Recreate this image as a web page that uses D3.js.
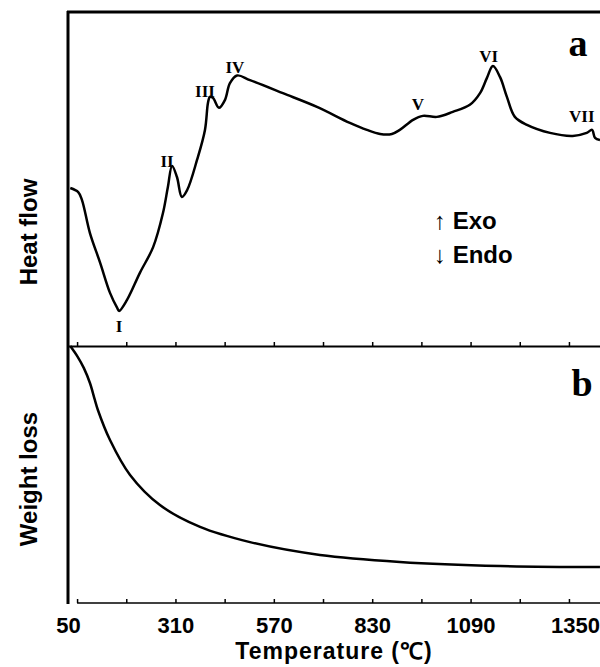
<!DOCTYPE html>
<html>
<head>
<meta charset="utf-8">
<script src="https://cdn.jsdelivr.net/npm/d3@7"></script>
<style>
body { margin: 0; background: #fff; }
</style>
</head>
<body>
<script>
// DTA curve (a), arbitrary units
var heatT = [32, 53, 63, 84, 111, 137, 156, 161, 182, 216, 251, 277, 290, 301, 314, 327, 341, 367, 388, 396, 401, 409, 425, 441, 454, 473,
    507, 594, 684, 771, 816, 851, 882, 903, 938, 964, 1001, 1043, 1088, 1115, 1133, 1149, 1168, 1186, 1207, 1239, 1300, 1360, 1397, 1411, 1419, 1432];
var heatV = [47.3, 46.1, 43.7, 33.8, 24.9, 15.9, 11.4, 10.5, 13.8, 21.9, 29.6, 39.8, 47.6, 53.9, 50.6, 44.6, 46.7, 55.7, 64.7, 72.8, 74.6, 74.3, 71.3, 73.7, 78.7, 81.0,
    79.6, 75.7, 71.6, 66.8, 64.7, 63.5, 63.5, 64.7, 67.7, 68.9, 68.6, 70.1, 72.2, 75.7, 80.2, 83.8, 80.5, 74.6, 68.6, 66.2, 63.8, 62.9, 63.8, 64.7, 62.3, 61.7];

// TG curve (b), arbitrary units
var weightT = [32, 52, 68, 84, 97, 105, 137, 190, 269, 375, 507, 692, 903, 1168, 1432];
var weightV = [100, 95.7, 91.4, 85.6, 79, 75.1, 63.4, 49.8, 38.1, 29.6, 23.7, 18.7, 16, 14.4, 14];

var tickVals = [50, 180, 310, 440, 570, 700, 830, 960, 1090, 1220, 1350];
var tickLabels = [50, 310, 570, 830, 1090, 1350];

var peakNames = ['I', 'II', 'III', 'IV', 'V', 'VI', 'VII'];
var peakT = [161, 288, 388, 467, 951, 1138, 1384];
var peakV = [4.2, 53.6, 74.6, 81.7, 70.7, 85, 67];

var svg = d3.select('body').append('svg').attr('width', 600).attr('height', 667);

var x = d3.scaleLinear().domain([26, 1440]).range([68, 603]);
var yA = d3.scaleLinear().domain([0, 100]).range([346, 12]);
var yB = d3.scaleLinear().domain([0, 100]).range([603, 346]);

var sans = 'Liberation Sans, Arial, sans-serif';
var serif = 'Liberation Serif, Times New Roman, serif';

// frame
svg.append('line')
    .attr('x1', 68).attr('x2', 68).attr('y1', 11).attr('y2', 604)
    .attr('stroke', '#000').attr('stroke-width', 3);
svg.append('line')
    .attr('x1', 67).attr('x2', 600).attr('y1', 12).attr('y2', 12)
    .attr('stroke', '#000').attr('stroke-width', 3);

// middle axis (no labels)
var midAxis = svg.append('g')
    .attr('transform', 'translate(0,' + yA(0) + ')')
    .call(d3.axisBottom(x).tickValues(tickVals).tickSizeInner(-4).tickSizeOuter(0).tickFormat(''));
midAxis.select('.domain').attr('stroke-width', 2);
midAxis.selectAll('.tick line').attr('stroke-width', 1.5);

// bottom axis, line starts at the first tick
var botAxis = svg.append('g')
    .attr('transform', 'translate(0,' + yB(0) + ')')
    .call(d3.axisBottom(x).tickValues(tickVals).tickSizeInner(-4).tickSizeOuter(0).tickPadding(14)
        .tickFormat(function(d) {
            return tickLabels.indexOf(d) >= 0 ? d : '';
        }));
botAxis.select('.domain')
    .attr('d', 'M' + x(50) + ',0H' + x.range()[1])
    .attr('stroke-width', 1.5);
botAxis.selectAll('.tick line').attr('stroke-width', 1.5);
botAxis.selectAll('.tick text')
    .attr('font-family', sans)
    .attr('font-weight', 'bold')
    .attr('font-size', 22)
    .attr('fill', '#000')
    .attr('dx', function(d) {
        return d === 50 ? -9 : (d === 1350 ? 6 : 0);
    });

// curves
var lineA = d3.line()
    .x(function(d, i) { return x(heatT[i]); })
    .y(function(d, i) { return yA(heatV[i]); })
    .curve(d3.curveCatmullRom.alpha(0.5));
svg.append('path')
    .attr('d', lineA(heatT))
    .attr('fill', 'none')
    .attr('stroke', '#000')
    .attr('stroke-width', 2.5);

var lineB = d3.line()
    .x(function(d, i) { return x(weightT[i]); })
    .y(function(d, i) { return yB(weightV[i]); })
    .curve(d3.curveCatmullRom.alpha(0.5));
svg.append('path')
    .attr('d', lineB(weightT))
    .attr('fill', 'none')
    .attr('stroke', '#000')
    .attr('stroke-width', 2.5);

// peak labels
svg.selectAll('.peak')
    .data(peakNames)
    .enter()
    .append('text')
    .attr('class', 'peak')
    .attr('x', function(d, i) { return x(peakT[i]); })
    .attr('y', function(d, i) { return yA(peakV[i]); })
    .attr('text-anchor', 'middle')
    .attr('font-family', serif)
    .attr('font-weight', 'bold')
    .attr('font-size', 17)
    .text(function(d) { return d; });

// panel letters
svg.append('text').attr('x', 578).attr('y', 56).attr('text-anchor', 'middle')
    .attr('font-family', serif).attr('font-weight', 'bold').attr('font-size', 38).text('a');
svg.append('text').attr('x', 582).attr('y', 396).attr('text-anchor', 'middle')
    .attr('font-family', serif).attr('font-weight', 'bold').attr('font-size', 38).text('b');

// exo / endo
svg.append('text').attr('x', 434).attr('y', 229)
    .attr('font-family', sans).attr('font-weight', 'bold').attr('font-size', 24).text('\u2191 Exo');
svg.append('text').attr('x', 434).attr('y', 263)
    .attr('font-family', sans).attr('font-weight', 'bold').attr('font-size', 24).text('\u2193 Endo');

// axis titles
svg.append('text')
    .attr('transform', 'translate(37,232) rotate(-90)')
    .attr('text-anchor', 'middle')
    .attr('font-family', sans).attr('font-weight', 'bold').attr('font-size', 24)
    .text('Heat flow');
svg.append('text')
    .attr('transform', 'translate(37,479) rotate(-90)')
    .attr('text-anchor', 'middle')
    .attr('font-family', sans).attr('font-weight', 'bold').attr('font-size', 24)
    .text('Weight loss');
svg.append('text')
    .attr('x', 334).attr('y', 659)
    .attr('text-anchor', 'middle')
    .attr('font-family', sans).attr('font-weight', 'bold').attr('font-size', 23)
    .attr('letter-spacing', 1)
    .text('Temperature (\u2103)');
</script>
</body>
</html>
